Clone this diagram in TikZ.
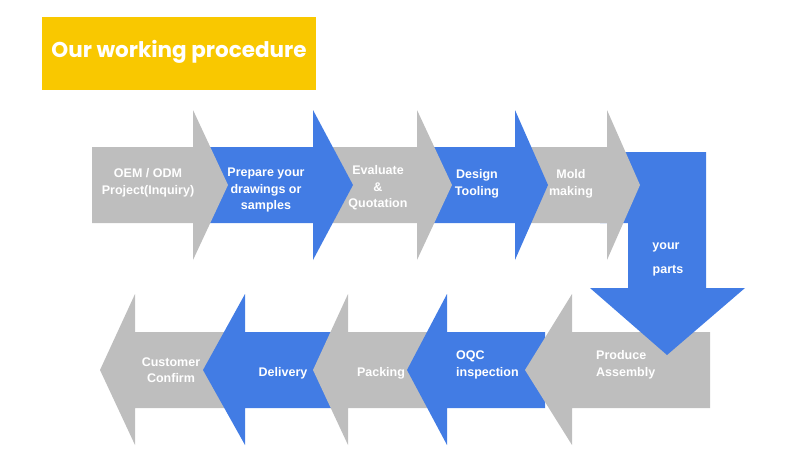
\documentclass[tikz,border=0pt]{standalone}
\usepackage{fontspec}
\setmainfont{Liberation Sans}
\newfontfamily\titlefont{Poppins}
\definecolor{stepgray}{RGB}{190,190,190}
\definecolor{stepblue}{RGB}{66,124,228}
\definecolor{titleyellow}{RGB}{249,200,0}
\tikzset{
  steptext/.style={text=white, font=\fontsize{12.5}{16.5}\selectfont\bfseries, align=center, inner sep=0pt},
  titletext/.style={text=white, font=\fontsize{21.5}{26}\selectfont\titlefont\bfseries, inner sep=0pt}
}
\begin{document}
\begin{tikzpicture}[x=1pt, y=-1pt]
    \useasboundingbox (0,0) rectangle (800,469);
    % title
    \fill[titleyellow] (42,17) rectangle (316,90);
    \node[titletext] (title) at (179,52) {Our working procedure};

    % lower row, pointing left (right one on top)
    \foreach \t/\h/\r/\c in {100/135/240/stepgray, 203/245/340/stepblue, 313/348/440/stepgray, 407/447/545/stepblue, 525/572/710/stepgray} {
        \fill[\c] (\t,370) -- (\h,294) -- (\h,332) -- (\r,332) -- (\r,408) -- (\h,408) -- (\h,445) -- cycle;
    }

    % turn at the right end
    \fill[stepblue] (600,152) -- (706,152) -- (706,288) -- (745,288) -- (667,355) -- (590,288) -- (628,288) -- (628,223) -- (600,223) -- cycle;

    % upper row, pointing right (left one on top)
    \foreach \l/\h/\t/\c in {525/607/640/stepgray, 425/515/548/stepblue, 320/417/452/stepgray, 200/313/353/stepblue, 92/193/228/stepgray} {
        \fill[\c] (\l,147) -- (\h,147) -- (\h,110) -- (\t,185) -- (\h,260) -- (\h,223) -- (\l,223) -- cycle;
    }

    % labels
    \node[steptext] (oem) at (148,183) {OEM / ODM\\Project(Inquiry)};
    \node[steptext] (prepare) at (266,190) {Prepare your\\drawings or\\samples};
    \node[steptext] (evaluate) at (378,188) {Evaluate\\\&\\Quotation};
    \node[steptext] (design) at (477,184) {Design\\Tooling};
    \node[steptext] (mold) at (571,184) {Mold\\making};
    \node[steptext] (your) at (666,247) {your};
    \node[steptext] (parts) at (668,271) {parts};
    \node[steptext] (customer) at (171,370) {Customer\\Confirm};
    \node[steptext] (delivery) at (283,373) {Delivery};
    \node[steptext] (packing) at (381,373) {Packing};
    \node[steptext, align=left, anchor=west] (oqc) at (456,365) {OQC\\inspection};
    \node[steptext, align=left, anchor=west] (produce) at (596,365) {Produce\\Assembly};
\end{tikzpicture}
\end{document}
